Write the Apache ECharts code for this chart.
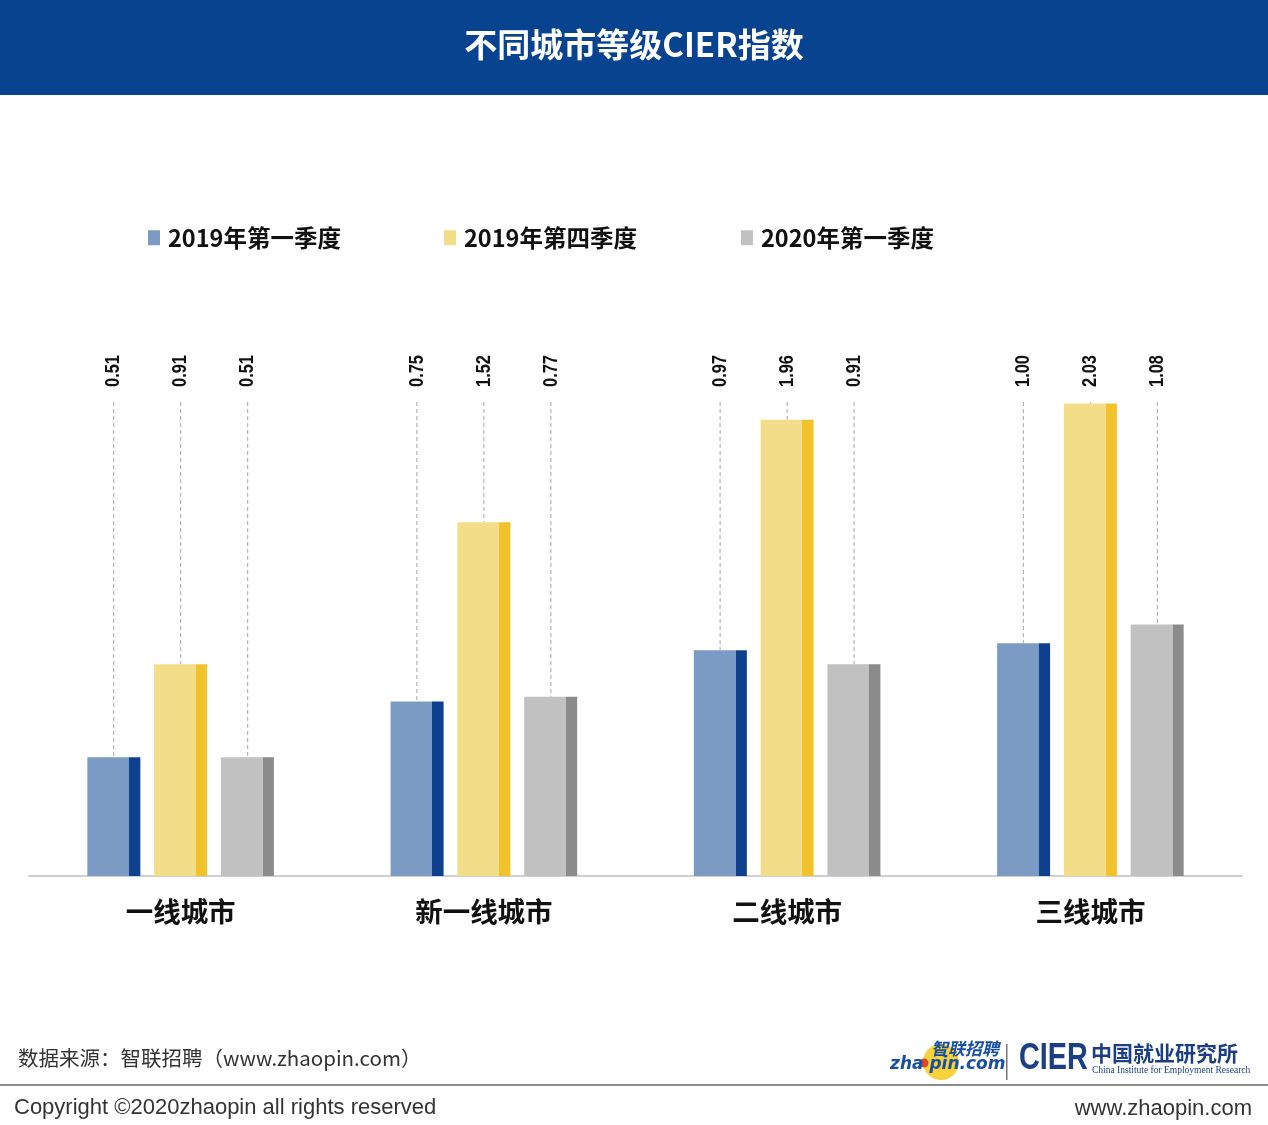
<!DOCTYPE html>
<html>
<head>
<meta charset="utf-8">
<script src="https://cdn.jsdelivr.net/npm/echarts@6/dist/echarts.min.js"></script>
<style>
html,body{margin:0;padding:0;background:#fff;}
#main{width:1268px;height:1125px;}
</style>
</head>
<body>
<div id="main"></div>
<script>
var categories = ['一线城市', '新一线城市', '二线城市', '三线城市'];
var seriesNames = ['2019年第一季度', '2019年第四季度', '2020年第一季度'];
var q1_2019 = [0.51, 0.75, 0.97, 1.00];
var q4_2019 = [0.91, 1.52, 1.96, 2.03];
var q1_2020 = [0.51, 0.77, 0.91, 1.08];
var seriesValues = [q1_2019, q4_2019, q1_2020];

var lightColors = ['#7b9bc5', '#f3dd88', '#c1c1c1'];
var darkColors = ['#0e408e', '#f2c22c', '#8b8b8b'];
var FONT = '"Noto Sans CJK SC", "Noto Sans", sans-serif';

function stripFill(i) {
  return new echarts.graphic.LinearGradient(0, 0, 1, 0, [
    {offset: 0, color: lightColors[i]},
    {offset: 0.79, color: lightColors[i]},
    {offset: 0.79, color: darkColors[i]},
    {offset: 1, color: darkColors[i]}
  ]);
}

var offsets = [-67, 0, 67];
var LABEL_Y = 371;
var LINE_TOP = 402;

var series = [];
seriesValues.forEach(function (vals, i) {
  series.push({
    name: seriesNames[i],
    type: 'bar',
    data: vals,
    barWidth: 53,
    barGap: '26%',
    itemStyle: {color: stripFill(i)},
    emphasis: {disabled: true},
    z: 3
  });
});
seriesValues.forEach(function (vals, i) {
  series.push({
    name: 'label_' + i,
    type: 'custom',
    data: vals.map(function (v, k) { return [k, v]; }),
    encode: {x: 0, y: 1},
    silent: true,
    z: 2,
    renderItem: function (params, api) {
      var p = api.coord([api.value(0), api.value(1)]);
      var x = p[0] + offsets[i];
      return {
        type: 'group',
        children: [
          {
            type: 'line',
            shape: {x1: x, y1: LINE_TOP, x2: x, y2: p[1]},
            style: {stroke: '#b5b5b5', lineWidth: 1.2, lineDash: [4, 3]}
          },
          {
            type: 'text',
            x: x,
            y: LABEL_Y,
            rotation: Math.PI / 2,
            scaleX: 0.78,
            style: {
              text: api.value(1).toFixed(2),
              fill: '#111',
              font: 'bold 21px "Liberation Sans", Arial, sans-serif',
              align: 'center',
              verticalAlign: 'middle'
            }
          }
        ]
      };
    }
  });
});

function legendFor(i, left) {
  return {
    data: [{name: seriesNames[i], itemStyle: {color: lightColors[i]}}],
    left: left,
    top: 221,
    icon: 'rect',
    itemWidth: 12,
    itemHeight: 15,
    itemGap: 0,
    selectedMode: false,
    textStyle: {fontFamily: FONT, fontSize: 23.5, fontWeight: 'bold', color: '#111', padding: [0, 0, 0, 3]}
  };
}

var chart = echarts.init(document.getElementById('main'));
chart.setOption({
  backgroundColor: '#fff',
  animation: false,
  legend: [legendFor(0, 143), legendFor(1, 439), legendFor(2, 736)],
  grid: {left: 29, right: 26, top: 294, bottom: 249},
  xAxis: {
    type: 'category',
    data: categories,
    axisLine: {lineStyle: {color: '#cfcfcf', width: 2}},
    axisTick: {show: false},
    axisLabel: {margin: 22, fontFamily: FONT, fontSize: 27.5, fontWeight: 'bold', color: '#111'}
  },
  yAxis: {
    type: 'value',
    min: 0,
    max: 2.5,
    show: false,
    splitLine: {show: false}
  },
  series: series,
  graphic: [
    {type: 'rect', left: 0, top: 0, shape: {width: 1268, height: 95}, style: {fill: '#08438f'}, z: 0},
    {type: 'text', left: 'center', top: 28, style: {text: '不同城市等级CIER指数', fill: '#fff', font: 'bold 33px ' + FONT}},
    {type: 'text', left: 18, top: 1048, style: {text: '数据来源：智联招聘（www.zhaopin.com）', fill: '#333', font: '20.5px ' + FONT}},
    {type: 'rect', left: 0, top: 1084, shape: {width: 1268, height: 2}, style: {fill: '#8c8c8c'}},
    {type: 'text', left: 14, top: 1097, style: {text: 'Copyright ©2020zhaopin all rights reserved', fill: '#333', font: '22px "Liberation Sans", Arial, sans-serif'}},
    {type: 'text', right: 16, top: 1098, style: {text: 'www.zhaopin.com', fill: '#333', font: '22px "Liberation Sans", Arial, sans-serif'}},
    // zhaopin logo
    {type: 'circle', shape: {cx: 941, cy: 1062, r: 18}, style: {fill: '#f7d23c'}},
    {type: 'circle', shape: {cx: 924, cy: 1063, r: 4.5}, style: {fill: '#e0452a'}},
    {type: 'text', left: 931, top: 1040, style: {text: '智联招聘', fill: '#1a4fa0', font: 'italic bold 17px ' + FONT}},
    {type: 'text', left: 890, top: 1056, style: {text: 'zha pin.com', fill: '#1a4fa0', font: 'italic bold 17px "DejaVu Sans", sans-serif'}},
    {type: 'rect', left: 1006, top: 1044, shape: {width: 1.5, height: 36}, style: {fill: '#777'}},
    {type: 'text', x: 1019, y: 1041, scaleX: 0.8, style: {text: 'CIER', fill: '#1c3f84', font: 'bold 36px "Liberation Sans", Arial, sans-serif'}},
    {type: 'text', left: 1091, top: 1043, style: {text: '中国就业研究所', fill: '#1c3f84', font: 'bold 21px "Noto Sans CJK SC", serif'}},
    {type: 'text', left: 1092, top: 1065, style: {text: 'China Institute for Employment Research', fill: '#1c3f84', font: '9.5px "Liberation Serif", serif'}}
  ]
});
</script>
</body>
</html>
